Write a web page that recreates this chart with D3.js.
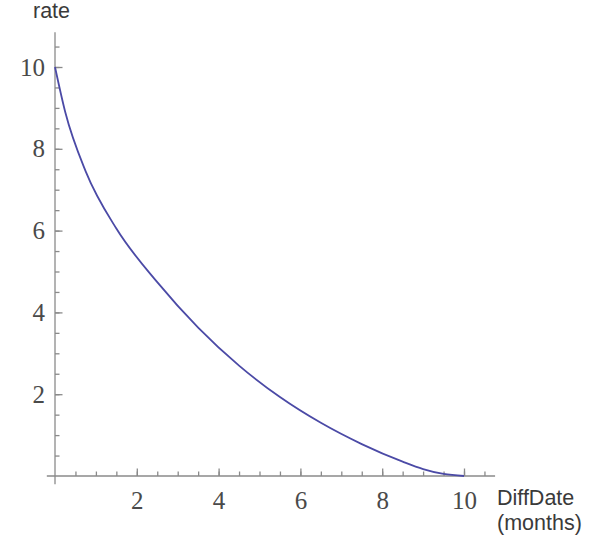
<!DOCTYPE html>
<meta charset="utf-8">
<style>
body { margin: 0; background: #fff; }
.tick text { font-family: "Liberation Serif", serif; font-size: 25px; fill: #4a4a4a; }
.tick line { stroke: #8a8a8a; stroke-width: 1.3; }
.lbl { font-family: "Liberation Sans", sans-serif; font-size: 21.5px; fill: #3a3a3a; }
</style>
<svg width="596" height="540"></svg>
<script src="https://d3js.org/d3.v7.min.js"></script>
<script>

// DiffDate (months) vs rate
var months = [0, 0.25, 0.75, 1.5, 2.5, 3.5, 4.5, 5.5, 6.5, 7.5, 8.5, 9, 9.5, 10];
var rates  = [10, 8.9, 7.45, 6.05, 4.74, 3.63, 2.70, 1.93, 1.30, 0.78, 0.35, 0.17, 0.05, 0];

var majorTicks = [2, 4, 6, 8, 10];
var minorTicks = d3.range(0.5, 10.6, 0.5);

var svg = d3.select("svg");

var x = d3.scaleLinear().domain([0, 10]).range([55, 464]),
    y = d3.scaleLinear().domain([0, 10]).range([476, 67]);

var axisColor = "#8a8a8a";

// axis lines, a little past the origin like mathematica draws them
svg.append("line")
    .attr("x1", x(-0.2)).attr("x2", x(10.76))
    .attr("y1", y(0)).attr("y2", y(0))
    .attr("stroke", axisColor).attr("stroke-width", 1.3);
svg.append("line")
    .attr("x1", x(0)).attr("x2", x(0))
    .attr("y1", y(-0.2)).attr("y2", y(10.85))
    .attr("stroke", axisColor).attr("stroke-width", 1.3);

// minor ticks
svg.append("g")
    .attr("transform", "translate(0," + y(0) + ")")
    .call(d3.axisBottom(x).tickValues(minorTicks).tickSize(-4.5).tickFormat(""))
    .call(function(g) { g.select(".domain").remove(); });
svg.append("g")
    .attr("transform", "translate(" + x(0) + ",0)")
    .call(d3.axisLeft(y).tickValues(minorTicks).tickSize(-4.5).tickFormat(""))
    .call(function(g) { g.select(".domain").remove(); });

// major ticks + labels
svg.append("g")
    .attr("transform", "translate(0," + y(0) + ")")
    .call(d3.axisBottom(x).tickValues(majorTicks).tickSize(-7.5).tickPadding(15))
    .call(function(g) { g.select(".domain").remove(); });
svg.append("g")
    .attr("transform", "translate(" + x(0) + ",0)")
    .call(d3.axisLeft(y).tickValues(majorTicks).tickSize(-7.5).tickPadding(10))
    .call(function(g) { g.select(".domain").remove(); });

svg.selectAll(".tick text").attr("font-family", null).attr("font-size", null).attr("fill", null);

// the curve
var line = d3.line()
    .x(function(d, i) { return x(months[i]); })
    .y(function(d) { return y(d); })
    .curve(d3.curveMonotoneX);

svg.append("path")
    .datum(rates)
    .attr("d", line)
    .attr("fill", "none")
    .attr("stroke", "#4b4aa6")
    .attr("stroke-width", 1.8);

// axis labels
svg.append("text").attr("class", "lbl").attr("x", 33).attr("y", 18).text("rate");
svg.append("text").attr("class", "lbl").attr("x", 497).attr("y", 505).text("DiffDate");
svg.append("text").attr("class", "lbl").attr("x", 497).attr("y", 530).text("(months)");

</script>
